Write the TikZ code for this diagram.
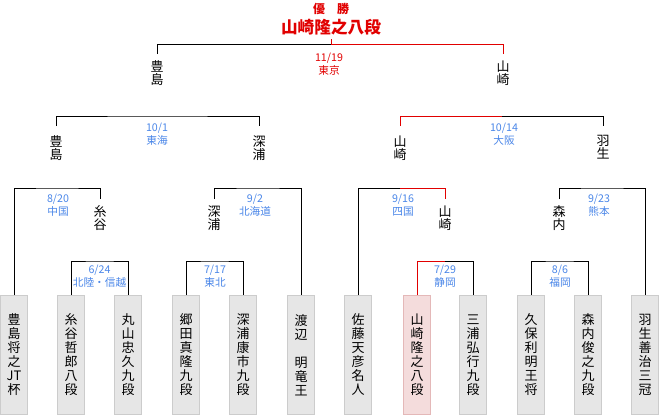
\documentclass[tikz,border=0pt]{standalone}
\usepackage{fontspec}
\setmainfont{Noto Sans CJK JP}
\usepackage{tikz}
\usetikzlibrary{positioning, calc}
\definecolor{cWin}{RGB}{225,0,0}
\definecolor{cDate}{RGB}{74,134,232}
\definecolor{cBoxFill}{RGB}{230,230,230}
\definecolor{cBoxLine}{RGB}{204,204,204}
\definecolor{cPinkFill}{RGB}{244,220,220}
\definecolor{cPinkLine}{RGB}{228,184,184}

\begin{document}
\begin{tikzpicture}[x=0.75pt, y=-0.75pt, line width=0.75pt,
    player/.style={anchor=north, minimum width=20.25pt, minimum height=89.25pt, inner sep=0pt, align=center, font=\fontsize{9.75}{10.5}\selectfont},
    pname/.style={anchor=north, align=center, inner xsep=0pt, inner ysep=4.5pt, font=\fontsize{9.75}{9.75}\selectfont},
    venue/.style={align=center, inner sep=0pt, text=cDate, font=\fontsize{8}{9.5}\selectfont},
    win/.style={draw=cWin}]

    \useasboundingbox (0,0) rectangle (660,415);

    % --- Players (bottom row) ---
    % \x, \name, \who, \bc
    \foreach \x/\name/\who/\bc in {
        14/toyoshima/{豊\\島\\将\\之\\JT\\杯}/cBox,
        71/itodani/{糸\\谷\\哲\\郎\\八\\段}/cBox,
        128/maruyama/{丸\\山\\忠\\久\\九\\段}/cBox,
        186/gouda/{郷\\田\\真\\隆\\九\\段}/cBox,
        243/fukaura/{深\\浦\\康\\市\\九\\段}/cBox,
        301/watanabe/{渡\\辺\\　\\明\\竜\\王}/cBox,
        358/sato/{佐\\藤\\天\\彦\\名\\人}/cBox,
        417/yamasaki/{山\\崎\\隆\\之\\八\\段}/cPink,
        473/miura/{三\\浦\\弘\\行\\九\\段}/cBox,
        531/kubo/{久\\保\\利\\明\\王\\将}/cBox,
        588/moriuchi/{森\\内\\俊\\之\\九\\段}/cBox,
        645/habu/{羽\\生\\善\\治\\三\\冠}/cBox%
    } {
        \node[player, fill=\bc Fill, draw=\bc Line] (\name) at (\x, 295) {\who};
    }

    % --- Round 1 ---
    \coordinate (j624) at (99.5, 261);
    \coordinate (j717) at (214.5, 261);
    \coordinate (j729) at (445, 261);
    \coordinate (j86) at (559.5, 261);
    \draw (itodani.north) |- (j624) -| (maruyama.north);
    \draw (gouda.north) |- (j717) -| (fukaura.north);
    \draw[win] (yamasaki.north) |- (j729);
    \draw (j729) -| (miura.north);
    \draw (kubo.north) |- (j86) -| (moriuchi.north);
    \node[venue] (v624) at (99.5, 276) {6/24\\北陸・信越};
    \node[venue] (v717) at (215, 276) {7/17\\東北};
    \node[venue] (v729) at (445, 276) {7/29\\静岡};
    \node[venue] (v86) at (560, 276) {8/6\\福岡};

    % --- Round 2 ---
    \node[pname] (itodani2) at (100, 199) {糸\\谷};
    \node[pname] (fukaura2) at (214, 199) {深\\浦};
    \node[pname] (yamasaki2) at (445, 199) {山\\崎};
    \node[pname] (moriuchi2) at (559, 199) {森\\内};
    \coordinate (j820) at (57, 188);
    \coordinate (j92) at (258, 188);
    \coordinate (j916) at (400, 188);
    \coordinate (j923) at (602, 188);
    \draw (toyoshima.north) |- (j820) -| (itodani2.north);
    \draw (fukaura2.north) |- (j92) -| (watanabe.north);
    \draw (sato.north) |- (j916);
    \draw[win] (j916) -| (yamasaki2.north);
    \draw (moriuchi2.north) |- (j923) -| (habu.north);
    \node[venue] (v820) at (58, 205.5) {8/20\\中国};
    \node[venue] (v92) at (255, 205.5) {9/2\\北海道};
    \node[venue] (v916) at (403, 205.5) {9/16\\四国};
    \node[venue] (v923) at (599, 205.5) {9/23\\熊本};

    % --- Round 3 ---
    \node[pname, inner ysep=6.75pt] (toyoshima3) at (56, 126) {豊\\島};
    \node[pname, inner ysep=6.75pt] (fukaura3) at (259, 126) {深\\浦};
    \node[pname, inner ysep=6.75pt] (yamasaki3) at (400, 126) {山\\崎};
    \node[pname, inner ysep=6.75pt] (habu3) at (603, 126) {羽\\生};
    \coordinate (j101) at (157, 116);
    \coordinate (j1014) at (502, 116);
    \draw (toyoshima3.north) |- (j101) -| (fukaura3.north);
    \draw[win] (yamasaki3.north) |- (j1014);
    \draw (j1014) -| (habu3.north);
    \node[venue] (v101) at (157, 134.5) {10/1\\東海};
    \node[venue] (v1014) at (504, 134.5) {10/14\\大阪};

    % --- Final ---
    \node[pname] (toyoshima4) at (157, 54) {豊\\島};
    \node[pname] (yamasaki4) at (503, 54) {山\\崎};
    \coordinate (j1119) at (331, 44);
    \node[anchor=south, inner sep=2.25pt, text=cWin, font=\fontsize{12.5}{14}\selectfont\bfseries] (champ) at (331, 39) {山崎隆之八段};
    \node[above=0pt of champ, inner sep=1pt, text=cWin, font=\fontsize{9}{10}\selectfont\bfseries] (yusho) {優　勝};
    \draw (toyoshima4.north) |- (j1119);
    \draw[win] (yamasaki4.north) |- (j1119) -- (champ.south);
    \node[venue, text=cWin] (v1119) at (329, 64) {11/19\\東京};

\end{tikzpicture}
\end{document}
